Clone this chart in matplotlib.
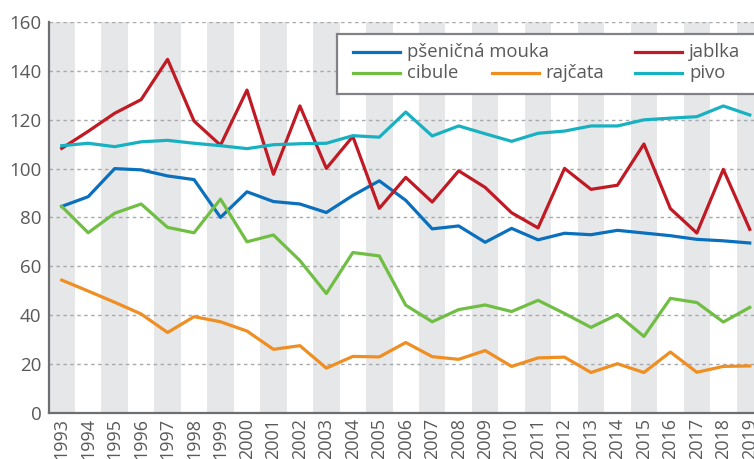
import matplotlib
matplotlib.use("Agg")
import matplotlib.pyplot as plt
from matplotlib.lines import Line2D
from matplotlib.patches import Rectangle

years = list(range(1993, 2020))
mouka = [84.5, 88.5, 100, 99.5, 97, 95.5, 80, 90.5, 86.5, 85.5, 82, 89, 95, 87,
         75.3, 76.5, 69.8, 75.5, 70.8, 73.5, 72.9, 74.7, 73.6, 72.5, 71, 70.4, 69.5]
jablka = [108.3, 115.3, 122.7, 128.3, 144.8, 119.5, 109.6, 132.2, 97.7, 125.7, 100.1, 113.2,
          83.7, 96.4, 86.3, 99.1, 92.3, 81.9, 75.7, 100.1, 91.5, 93.2, 110.1, 83.6, 73.6, 99.7, 75.1]
pivo = [109.4, 110.4, 109.0, 111.0, 111.6, 110.4, 109.4, 108.2, 109.8, 110.2, 110.4, 113.5,
        112.9, 123.2, 113.4, 117.5, 114.3, 111.2, 114.5, 115.4, 117.5, 117.5, 120.0, 120.7, 121.3, 125.7, 122.0]
cibule = [84.5, 73.7, 81.7, 85.5, 75.9, 73.7, 87.5, 70.0, 72.8, 62.3, 48.8, 65.6, 64.2,
          44.0, 37.2, 42.2, 44.1, 41.4, 46.0, 40.6, 34.9, 40.2, 31.2, 46.8, 45.1, 37.1, 43.1]
rajcata = [54.3, 49.8, 45.2, 40.4, 32.8, 39.3, 37.2, 33.4, 25.9, 27.4, 18.2, 23.0, 22.8,
           28.7, 22.9, 21.8, 25.4, 18.9, 22.4, 22.7, 16.4, 20.0, 16.4, 24.8, 16.5, 18.9, 19.1]

labels = ["pšeničná mouka", "jablka", "cibule", "rajčata", "pivo"]
colors = {"mouka": "#0A70BE", "jablka": "#C01A24", "cibule": "#70BE44",
          "rajcata": "#EF8E22", "pivo": "#17B1C2"}
yticks = [0, 20, 40, 60, 80, 100, 120, 140, 160]

TXT = "#58595B"
plt.rcParams['font.family'] = ['Open Sans', 'DejaVu Sans']

W, H = 754, 459
fig = plt.figure(figsize=(W / 100, H / 100), dpi=100)
left_px, right_px, top_px, bot_px = 48.5, 763.0, 22.3, 412.5
ax = fig.add_axes([left_px / W, 1 - bot_px / H, (right_px - left_px) / W, (bot_px - top_px) / H])

# alternating stripes
for i, yr in enumerate(years):
    if i % 2 == 0:
        ax.axvspan(yr - 0.5, yr + 0.5, color="#E6E7E8", lw=0, zorder=0)

ax.set_xlim(years[0] - 0.5, years[-1] + 0.5)
ax.set_ylim(0, 160)
ax.set_yticks(yticks)
ax.set_xticks(years)
ax.set_xticklabels([str(y) for y in years], rotation=90)
for y in yticks[1:]:
    ax.axhline(y, color="#A7A9AC", lw=1.0, ls=(0, (2.5, 2.5)), zorder=1)

lw = 2.3
ax.plot(years, mouka, color=colors["mouka"], lw=lw, zorder=3)
ax.plot(years, jablka, color=colors["jablka"], lw=lw, zorder=3)
ax.plot(years, cibule, color=colors["cibule"], lw=lw, zorder=3)
ax.plot(years, rajcata, color=colors["rajcata"], lw=lw, zorder=3)
ax.plot(years, pivo, color=colors["pivo"], lw=lw, zorder=3)

for s in ["top", "right"]:
    ax.spines[s].set_visible(False)
for s in ["left", "bottom"]:
    ax.spines[s].set_color("#6D6E71")
    ax.spines[s].set_linewidth(1.6)
ax.tick_params(length=0, labelcolor=TXT)
ax.tick_params(axis="y", pad=5, labelsize=13.5)
ax.tick_params(axis="x", pad=4, labelsize=13)

# legend box (manual layout)
def fx(px):
    return px / W

def fy(py):
    return 1 - py / H

box = Rectangle((fx(337), fy(94)), fx(800) - fx(337), fy(33.5) - fy(94),
                transform=fig.transFigure, facecolor="white", edgecolor="#808285",
                lw=1.6, zorder=5)
fig.add_artist(box)
entries = [
    (labels[0], colors["mouka"], 353, 52.3),
    (labels[1], colors["jablka"], 635, 52.3),
    (labels[2], colors["cibule"], 353, 73.3),
    (labels[3], colors["rajcata"], 491.5, 73.3),
    (labels[4], colors["pivo"], 635, 73.3),
]
for lab, col, x0, y0 in entries:
    fig.add_artist(Line2D([fx(x0), fx(x0 + 47)], [fy(y0), fy(y0)], transform=fig.transFigure,
                          color=col, lw=lw, zorder=6))
    fig.text(fx(x0 + 54), fy(y0), lab, color=TXT, fontsize=13.3, va="center", ha="left", zorder=6)

fig.savefig("out.png", dpi=100)
